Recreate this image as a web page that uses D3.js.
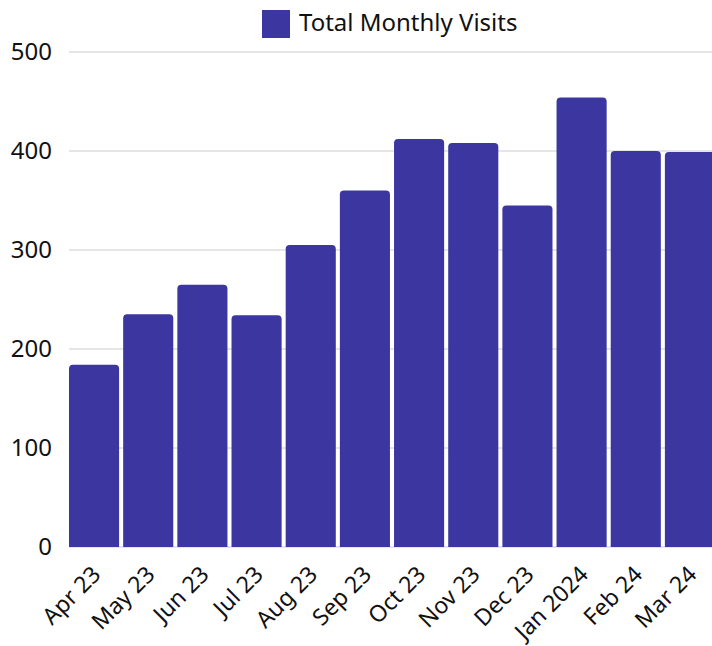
<!DOCTYPE html>
<html>
<head>
<meta charset="utf-8">
<script src="https://cdn.jsdelivr.net/npm/d3@7"></script>
<style>
  body { margin: 0; background: #fff; }
  svg { display: block; font-family: "Noto Sans", sans-serif; }
  .grid line { stroke: #cccccc; stroke-width: 1; }
</style>
</head>
<body>
<svg class="chart"></svg>
<script>
var months = ["Apr 23", "May 23", "Jun 23", "Jul 23", "Aug 23", "Sep 23",
              "Oct 23", "Nov 23", "Dec 23", "Jan 2024", "Feb 24", "Mar 24"];
var visits = [184, 235, 265, 234, 305, 360, 412, 408, 345, 454, 400, 399];
var yTicks = [0, 100, 200, 300, 400, 500];
var seriesName = "Total Monthly Visits";

var width = 712, height = 646;
var margin = { top: 52, right: -3, bottom: 99, left: 69 };
var barColor = "#3b36a0";

var chart = d3.select(".chart")
    .attr("width", width)
    .attr("height", height);

var x = d3.scaleBand()
    .domain(months)
    .range([margin.left, width - margin.right])
    .paddingInner(0.075)
    .paddingOuter(0);

var y = d3.scaleLinear()
    .domain([0, 500])
    .range([height - margin.bottom, margin.top]);

// gridlines
chart.append("g")
    .attr("class", "grid")
    .selectAll("line")
    .data(yTicks)
    .enter()
    .append("line")
    .attr("x1", margin.left)
    .attr("x2", width)
    .attr("y1", function(d) { return y(d); })
    .attr("y2", function(d) { return y(d); });

// y labels
chart.append("g")
    .selectAll("text")
    .data(yTicks)
    .enter()
    .append("text")
    .attr("x", 52)
    .attr("y", function(d) { return y(d); })
    .attr("dy", "0.35em")
    .attr("text-anchor", "end")
    .style("font-size", "24px")
    .style("fill", "#111")
    .text(function(d) { return d; });

// bars, top corners rounded
function barPath(x0, y0, w, h, r) {
    r = Math.min(r, h);
    return "M" + x0 + "," + (y0 + h) +
        "V" + (y0 + r) +
        "Q" + x0 + "," + y0 + " " + (x0 + r) + "," + y0 +
        "H" + (x0 + w - r) +
        "Q" + (x0 + w) + "," + y0 + " " + (x0 + w) + "," + (y0 + r) +
        "V" + (y0 + h) + "Z";
}

chart.append("g")
    .selectAll("path.bar")
    .data(months)
    .enter()
    .append("path")
    .attr("class", "bar")
    .attr("fill", barColor)
    .attr("d", function(d, i) {
        return barPath(x(d), y(visits[i]), x.bandwidth(), y(0) - y(visits[i]), 4);
    });

// x labels
chart.append("g")
    .selectAll("text")
    .data(months)
    .enter()
    .append("text")
    .attr("transform", function(d) {
        return "translate(" + (x(d) + x.bandwidth() / 2 + 8) + "," + (y(0) + 29) + ") rotate(-45)";
    })
    .attr("text-anchor", "end")
    .style("font-size", "23px")
    .style("fill", "#111")
    .text(function(d) { return d; });

// legend
var legend = chart.append("g");
legend.append("rect")
    .attr("x", 262)
    .attr("y", 10)
    .attr("width", 28)
    .attr("height", 28)
    .attr("fill", barColor);
legend.append("text")
    .attr("x", 299)
    .attr("y", 31)
    .style("font-size", "24px")
    .style("fill", "#111")
    .text(seriesName);
</script>
</body>
</html>
